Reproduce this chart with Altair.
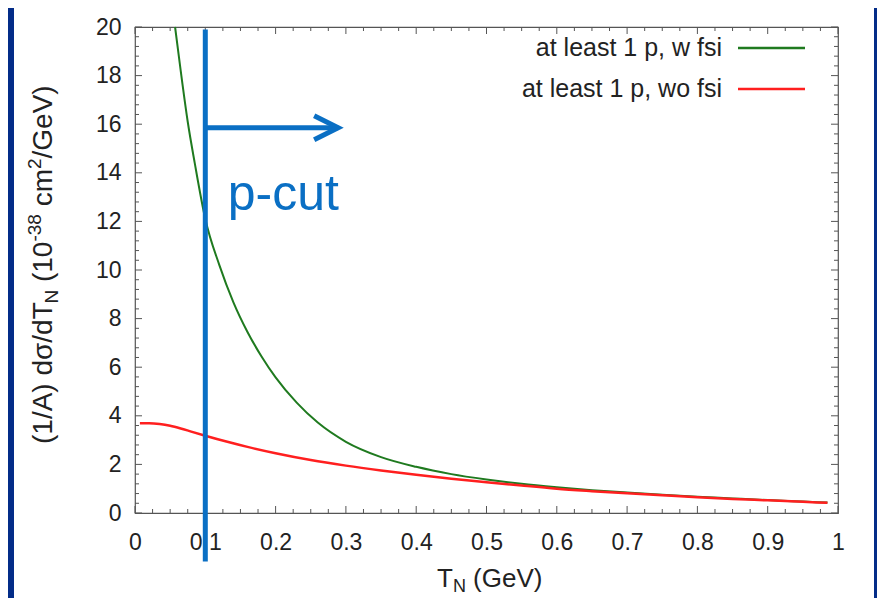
import altair as alt
import pandas as pd

# ---------------- data ----------------
x_fsi = [0.057, 0.065, 0.075, 0.085, 0.1, 0.12, 0.14, 0.16, 0.18, 0.2, 0.23, 0.26,
         0.3, 0.35, 0.4, 0.45, 0.5, 0.55, 0.6, 0.65, 0.7, 0.75, 0.8, 0.85, 0.9, 0.95, 0.985]
y_fsi = [20.0, 18.2, 16.1, 14.4, 12.1, 10.2, 8.67, 7.45, 6.44, 5.58, 4.54, 3.72,
         2.93, 2.30, 1.90, 1.60, 1.38, 1.20, 1.06, 0.94, 0.84, 0.75, 0.67, 0.6, 0.53, 0.47, 0.43]

x_nofsi = [0.007, 0.02, 0.035, 0.05, 0.065, 0.08, 0.1, 0.13, 0.16, 0.2, 0.25, 0.3, 0.35,
           0.4, 0.45, 0.5, 0.55, 0.6, 0.65, 0.7, 0.75, 0.8, 0.85, 0.9, 0.95, 0.985]
y_nofsi = [3.69, 3.69, 3.66, 3.59, 3.48, 3.35, 3.18, 2.94, 2.72, 2.46, 2.18, 1.95, 1.75,
           1.57, 1.41, 1.27, 1.13, 1.0, 0.9, 0.81, 0.73, 0.65, 0.58, 0.52, 0.46, 0.42]

x_major = [0, 0.1, 0.2, 0.3, 0.4, 0.5, 0.6, 0.7, 0.8, 0.9, 1.0]
x_minor = [0.025, 0.05, 0.075, 0.125, 0.15, 0.175, 0.225, 0.25, 0.275,
           0.325, 0.35, 0.375, 0.425, 0.45, 0.475, 0.525, 0.55, 0.575,
           0.625, 0.65, 0.675, 0.725, 0.75, 0.775, 0.825, 0.85, 0.875,
           0.925, 0.95, 0.975]
y_major = [0, 2, 4, 6, 8, 10, 12, 14, 16, 18, 20]
y_minor = [0.4, 0.8, 1.2, 1.6, 2.4, 2.8, 3.2, 3.6, 4.4, 4.8, 5.2, 5.6,
           6.4, 6.8, 7.2, 7.6, 8.4, 8.8, 9.2, 9.6, 10.4, 10.8, 11.2, 11.6,
           12.4, 12.8, 13.2, 13.6, 14.4, 14.8, 15.2, 15.6, 16.4, 16.8, 17.2,
           17.6, 18.4, 18.8, 19.2, 19.6]

legend_labels = ["at least 1 p, w fsi", "at least 1 p, wo fsi"]

cut_x = 0.1
cut_top = 19.9
cut_bottom = -2.0
arrow_y = 15.85
arrow_end = 0.289
cut_label = "p-cut"
cut_label_x = 0.132
cut_label_y = 12.45

# ---------------- style ----------------
GREEN = "#1f7a1f"
RED = "#ff1f1f"
BLUE = "#0a6fc4"
BG_BLUE = "#032c88"
TICK = "#555555"
TXT = "#222222"
FONT = "Liberation Sans"

W, H = 703, 486
PAD = {"left": 127, "top": 19, "right": 39, "bottom": 85}
MAJ, MIN = 7, 4

xs = alt.Scale(domain=[0, 1], nice=False, zero=False)
ys = alt.Scale(domain=[0, 20], nice=False, zero=False)

lab = dict(labelFont=FONT, labelFontSize=23, labelColor=TXT, labelOverlap=False,
           labelFlush=False, labelBound=False, ticks=False, domain=False, grid=False,
           title=None)

df_fsi = pd.DataFrame({"x": x_fsi, "y": y_fsi})
df_nofsi = pd.DataFrame({"x": x_nofsi, "y": y_nofsi})
df_cut = pd.DataFrame({"x": [cut_x], "y": [cut_top], "y2": [cut_bottom]})
df_arrow = pd.DataFrame({"x": [cut_x], "x2": [arrow_end], "y": [arrow_y]})
df_lab = pd.DataFrame({"x": [cut_label_x], "y": [cut_label_y], "t": [cut_label]})
one = pd.DataFrame({"k": [0]})

layers = []

# blue side strips of the slide
layers.append(alt.Chart(one).mark_rect(color=BG_BLUE).encode(
    x=alt.value(-PAD["left"]), x2=alt.value(-PAD["left"] + 6),
    y=alt.value(-PAD["top"]), y2=alt.value(H + PAD["bottom"])))
layers.append(alt.Chart(one).mark_rect(color=BG_BLUE).encode(
    x=alt.value(W + 36), x2=alt.value(W + PAD["right"]),
    y=alt.value(-PAD["top"]), y2=alt.value(H + PAD["bottom"])))

# inward ticks on all four sides (gnuplot style), positioned by the scales
for vals, size in ((x_major, MAJ), (x_minor, MIN)):
    d = pd.DataFrame({"v": vals})
    for y0, y1 in ((H, H - size), (0, size)):
        layers.append(alt.Chart(d).mark_rule(color=TICK, strokeWidth=1).encode(
            x=alt.X("v:Q", scale=xs, axis=None), y=alt.value(y0), y2=alt.value(y1)))
for vals, size in ((y_major, MAJ), (y_minor, MIN)):
    d = pd.DataFrame({"v": vals})
    for x0, x1 in ((0, size), (W, W - size)):
        layers.append(alt.Chart(d).mark_rule(color=TICK, strokeWidth=1).encode(
            y=alt.Y("v:Q", scale=ys, axis=None), x=alt.value(x0), x2=alt.value(x1)))

green = alt.Chart(df_fsi).mark_line(color=GREEN, strokeWidth=2, interpolate="monotone").encode(
    x=alt.X("x:Q", scale=xs, axis=alt.Axis(orient="bottom", values=x_major, format=".1~f",
                                           labelPadding=18, **lab)),
    y=alt.Y("y:Q", scale=ys, axis=alt.Axis(orient="left", values=y_major, format="d",
                                           labelPadding=14, **lab)))
red = alt.Chart(df_nofsi).mark_line(color=RED, strokeWidth=2.5, interpolate="monotone").encode(
    x=alt.X("x:Q", scale=xs, axis=None),
    y=alt.Y("y:Q", scale=ys, axis=None))
cut = alt.Chart(df_cut).mark_rule(color=BLUE, strokeWidth=5).encode(
    x=alt.X("x:Q", scale=xs, axis=None),
    y=alt.Y("y:Q", scale=ys, axis=None),
    y2="y2:Q")
shaft = alt.Chart(df_arrow).mark_rule(color=BLUE, strokeWidth=5).encode(
    x=alt.X("x:Q", scale=xs, axis=None),
    x2="x2:Q",
    y=alt.Y("y:Q", scale=ys, axis=None))
head = alt.Chart(df_arrow).mark_point(
    shape="M -1 -0.5 L 0 0 L -1 0.5", size=2304, filled=False, stroke=BLUE,
    strokeWidth=5, opacity=1, strokeJoin="miter", strokeCap="butt").encode(
    x=alt.X("x2:Q", scale=xs, axis=None),
    y=alt.Y("y:Q", scale=ys, axis=None))
ptext = alt.Chart(df_lab).mark_text(
    font=FONT, fontSize=50, color=BLUE, align="left", baseline="alphabetic").encode(
    x=alt.X("x:Q", scale=xs, axis=None),
    y=alt.Y("y:Q", scale=ys, axis=None),
    text="t:N")
layers += [green, red, cut, shaft, head, ptext]

# legend (gnuplot style: text, then line sample)
for i, (label, col) in enumerate(zip(legend_labels, [GREEN, RED])):
    yy = 21 + 41 * i
    layers.append(alt.Chart(one).mark_text(
        text=label, font=FONT, fontSize=25, color=TXT, align="right", baseline="middle").encode(
        x=alt.value(587), y=alt.value(yy)))
    layers.append(alt.Chart(one).mark_rule(color=col, strokeWidth=2.5).encode(
        x=alt.value(603), x2=alt.value(670), y=alt.value(yy)))

# x axis title: T_N (GeV)
xt_pieces = [("T", 26, 0, 0.611, 0.0), ("N", 18, 5, 0.722, 0.0), ("(GeV)", 26, 0, 2.667, 0.278)]
xpos = 302.0
for text, fs, shift, wem, gap in xt_pieces:
    xpos += gap * fs
    layers.append(alt.Chart(one).mark_text(
        text=text, font=FONT, fontSize=fs, color=TXT, align="left", baseline="alphabetic").encode(
        x=alt.value(xpos), y=alt.value(560 + shift)))
    xpos += wem * fs

# y axis title: (1/A) dσ/dT_N (10^-38 cm^2/GeV), rotated
yt_pieces = [("(1/A) dσ/dT", 28, 0, 5.016, 0.0), ("N", 19, 6, 0.722, 0.0),
             ("(10", 28, 0, 1.445, 0.278), ("-38", 19, -11, 1.445, 0.0),
             ("cm", 28, 0, 1.333, 0.278), ("2", 19, -11, 0.556, 0.0),
             ("/GeV)", 28, 0, 2.612, 0.0)]
ypos = 417.0
for text, fs, shift, wem, gap in yt_pieces:
    ypos -= gap * fs
    layers.append(alt.Chart(one).mark_text(
        text=text, font=FONT, fontSize=fs, color=TXT, align="left", baseline="alphabetic",
        angle=270).encode(x=alt.value(-83 + shift), y=alt.value(ypos)))
    ypos -= wem * fs

chart = alt.layer(*layers).resolve_axis(x="independent", y="independent").properties(
    width=W, height=H,
    autosize=alt.AutoSizeParams(type="none"),
    padding=PAD,
    background="white",
).configure_view(stroke="#555555", strokeWidth=1.2)

chart.save("out.html", embed_options={"renderer": "svg", "actions": False})
